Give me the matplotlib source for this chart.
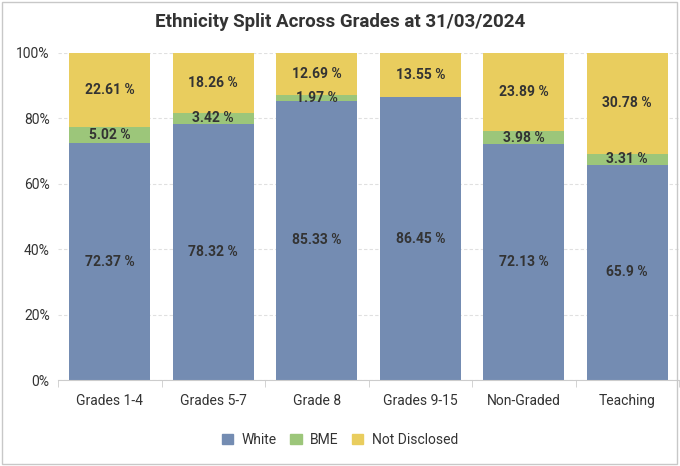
import matplotlib.pyplot as plt
from matplotlib.patches import Rectangle, Patch
import numpy as np

plt.rcParams['font.family'] = ['Roboto', 'DejaVu Sans']

# data
grades = ['Grades 1-4', 'Grades 5-7', 'Grade 8', 'Grades 9-15', 'Non-Graded', 'Teaching']
white = [72.37, 78.32, 85.33, 86.45, 72.13, 65.9]
bme = [5.02, 3.42, 1.97, 0.0, 3.98, 3.31]
not_disclosed = [22.61, 18.26, 12.69, 13.55, 23.89, 30.78]

series = [('White', white, '#748cb2'), ('BME', bme, '#9cc67a'), ('Not Disclosed', not_disclosed, '#e9cd5e')]

fig = plt.figure(figsize=(6.8, 4.66), dpi=100)
ax = fig.add_axes([58 / 680, 86 / 466, 621 / 680, 327 / 466])

x = np.arange(len(grades))
bottom = np.zeros(len(grades))
for name, vals, col in series:
    vals = np.array(vals)
    ax.bar(x, vals, 0.78, bottom=bottom, color=col, zorder=2)
    for xi, b, v in zip(x, bottom, vals):
        if v > 0:
            ax.text(xi, b + v / 2, f'{v:g} %', ha='center', va='center',
                    fontsize=10, fontweight='bold', color='#333333', zorder=3)
    bottom += vals

ax.set_xlim(-0.5, len(grades) - 0.5)
ax.set_ylim(0, 100)
ax.set_yticks(range(0, 101, 20))
ax.set_yticklabels([f'{v}%' for v in range(0, 101, 20)])
ax.set_xticks(x)
ax.set_xticklabels(grades)
ax.set_xticks(np.arange(-0.5, len(grades), 1), minor=True)
ax.tick_params(axis='x', which='major', length=0, pad=10, labelsize=10, labelcolor='#333333')
ax.tick_params(axis='x', which='minor', length=5, color='#cccccc')
ax.tick_params(axis='y', length=0, pad=6, labelsize=10, labelcolor='#333333')
ax.yaxis.grid(True, color='#e0e0e0', linestyle=(0, (3, 2)), linewidth=0.8, zorder=0)
for s in ['top', 'right', 'left']:
    ax.spines[s].set_visible(False)
ax.spines['bottom'].set_color('#cccccc')

fig.text(0.5, 1 - 22 / 466, 'Ethnicity Split Across Grades at 31/03/2024', ha='center', va='center',
         fontsize=13.5, fontweight='bold', color='#333333')

handles = [Patch(color=c, label=n) for n, _, c in series]
fig.legend(handles=handles, loc='center', bbox_to_anchor=(0.5, 1 - 440 / 466), ncol=3, frameon=False,
           fontsize=10, handlelength=0.8, handleheight=0.8, handletextpad=0.6, columnspacing=1.0,
           labelcolor='#333333')

fig.patches.append(Rectangle((2 / 680, 2 / 466), 675 / 680, 462 / 466, transform=fig.transFigure,
                             fill=False, edgecolor='#c8c8c8', linewidth=1))

fig.savefig('out.png', dpi=100)
